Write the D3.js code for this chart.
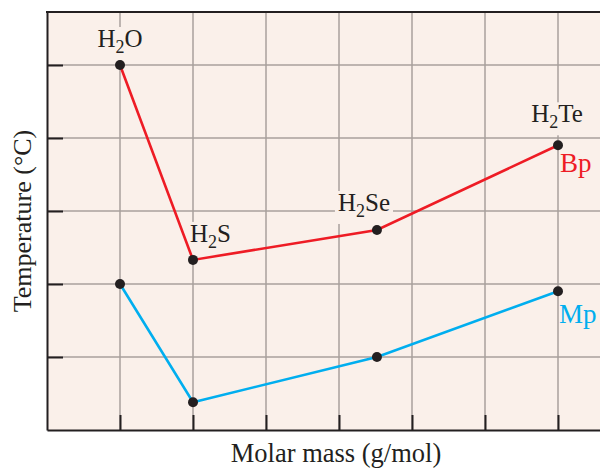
<!DOCTYPE html>
<html>
<head>
<meta charset="utf-8">
<script src="https://cdn.jsdelivr.net/npm/d3@7"></script>
<style>
  html, body { margin: 0; padding: 0; background: #ffffff; }
  svg { display: block; }
  text { font-family: "Liberation Serif", "Times New Roman", serif; }
</style>
</head>
<body>
<svg id="chart" width="600" height="468"></svg>
<script>
// ---- Data (schematic grid units) ----
const compounds = ["H2O", "H2S", "H2Se", "H2Te"];
const molarPos  = [1, 2, 4.52, 7];          // position along the molar-mass axis (grid units)
const bpValues  = [5.0, 2.33, 2.74, 3.90];  // boiling points (grid units)
const mpValues  = [2.0, 0.38, 1.0, 1.90];   // melting points (grid units)
const xTicks    = [1, 2, 3, 4, 5, 6, 7];
const yTicks    = [1, 2, 3, 4, 5];
const seriesNames = ["Bp", "Mp"];

(function () {
// ---- Layout ----
const padL = 47, padT = 12, padB = 430, padR = 600;
const unit = 73;
const svg = d3.select("#chart");

const x = d3.scaleLinear().domain([0, (padR - padL) / unit]).range([padL, padR]);
const y = d3.scaleLinear().domain([0, (padB - padT) / unit]).range([padB, padT]);

const BG = "#faf0ea", GRID = "#a9a19c", RED = "#ee1c25", BLUE = "#00aeef", DOT = "#231f20";

// plot background
svg.append("rect").attr("x", padL).attr("y", padT)
  .attr("width", padR - padL).attr("height", padB - padT).attr("fill", BG);

// grid
const grid = svg.append("g");
grid.selectAll("line.v").data(xTicks).join("line").attr("class", "v")
  .attr("x1", d => x(d)).attr("x2", d => x(d))
  .attr("y1", padT).attr("y2", padB)
  .attr("stroke", GRID).attr("stroke-width", 1.5);
grid.selectAll("line.h").data(yTicks).join("line").attr("class", "h")
  .attr("y1", d => y(d)).attr("y2", d => y(d))
  .attr("x1", padL).attr("x2", padR)
  .attr("stroke", GRID).attr("stroke-width", 1.5);

// label helper with background patch and subscript digits
const labelLayer = svg.append("g");
function formula(g, str, size) {
  const t = g.append("text").attr("font-size", size).attr("fill", "#231f20");
  const parts = str.match(/[A-Za-z]+|\d+/g);
  let shifted = false;
  parts.forEach(p => {
    if (/^\d+$/.test(p)) {
      t.append("tspan").attr("font-size", size * 0.72).attr("dy", size * 0.24).text(p);
      shifted = true;
    } else {
      t.append("tspan").attr("dy", shifted ? -size * 0.24 : 0).text(p);
      shifted = false;
    }
  });
  return t;
}

// label anchors relative to each point: [dx, dy, anchor]
const labelOffsets = [[0, -18, "middle"], [-3, -18, "start"], [-13, -19, "middle"], [-1, -23, "middle"]];

compounds.forEach((c, i) => {
  const g = labelLayer.append("g");
  const rect = g.append("rect").attr("fill", BG);
  const t = formula(g, c, 25)
    .attr("x", x(molarPos[i]) + labelOffsets[i][0])
    .attr("y", y(bpValues[i]) + labelOffsets[i][1])
    .attr("text-anchor", labelOffsets[i][2]);
  const bb = t.node().getBBox();
  rect.attr("x", bb.x - 3).attr("y", bb.y + 2).attr("width", bb.width + 6).attr("height", bb.height + 1);
});

// axes (ticks point inward, no labels)
const yAxis = d3.axisLeft(y).tickValues(yTicks).tickSizeInner(-16).tickSizeOuter(0).tickFormat("");
const xAxis = d3.axisBottom(x).tickValues(xTicks).tickSizeInner(-15).tickSizeOuter(0).tickFormat("");
const ya = svg.append("g").attr("transform", `translate(${padL},0)`).call(yAxis);
const xa = svg.append("g").attr("transform", `translate(0,${padB})`).call(xAxis);
[ya, xa].forEach(a => {
  a.select(".domain").attr("stroke", "#231f20").attr("stroke-width", 2);
  a.selectAll(".tick line").attr("stroke", "#231f20").attr("stroke-width", 2);
});
// top border
svg.append("line").attr("x1", padL - 1).attr("x2", padR).attr("y1", padT).attr("y2", padT)
  .attr("stroke", "#231f20").attr("stroke-width", 2);

// series lines
const line = d3.line().x((d, i) => x(molarPos[i])).y(d => y(d));
svg.append("path").datum(bpValues).attr("d", line)
  .attr("fill", "none").attr("stroke", RED).attr("stroke-width", 2.6);
svg.append("path").datum(mpValues).attr("d", line)
  .attr("fill", "none").attr("stroke", BLUE).attr("stroke-width", 2.6);

// dots
[bpValues, mpValues].forEach(vals => {
  svg.append("g").selectAll("circle").data(vals).join("circle")
    .attr("cx", (d, i) => x(molarPos[i])).attr("cy", d => y(d))
    .attr("r", 5).attr("fill", DOT);
});

// series labels
const last = compounds.length - 1;
svg.append("text").attr("x", x(molarPos[last]) + 2).attr("y", y(bpValues[last]) + 27)
  .attr("font-size", 27).attr("fill", RED).text(seriesNames[0]);
svg.append("text").attr("x", x(molarPos[last]) + 1).attr("y", y(mpValues[last]) + 32)
  .attr("font-size", 27).attr("fill", BLUE).text(seriesNames[1]);

// axis titles
svg.append("text").attr("x", 336).attr("y", 462).attr("text-anchor", "middle")
  .attr("font-size", 26.5).attr("fill", "#231f20").text("Molar mass (g/mol)");
svg.append("text").attr("transform", `translate(31,${(padT + padB) / 2}) rotate(-90)`)
  .attr("text-anchor", "middle").attr("font-size", 26).attr("fill", "#231f20")
  .text("Temperature (°C)");
})();
</script>
</body>
</html>
